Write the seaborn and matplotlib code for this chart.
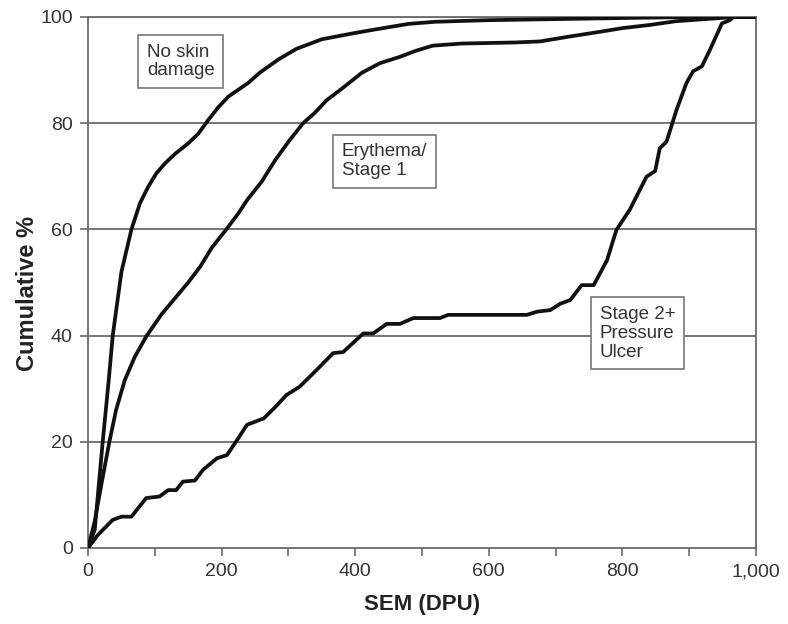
import matplotlib
matplotlib.use("Agg")
import matplotlib.pyplot as plt
import seaborn as sns
import pandas as pd
from matplotlib.ticker import MultipleLocator, FuncFormatter

# ---- data ----
noskin_x = [0, 10, 22, 31, 37, 50, 65, 78, 90, 102, 115, 130, 150, 165, 180, 195, 210,
            240, 257, 285, 312, 350, 400, 437, 480, 520, 600, 700, 800, 905, 1000]
noskin_y = [0, 3.4, 20, 31.6, 40, 52, 60, 65, 68, 70.5, 72.4, 74.2, 76.2, 78, 80.6, 83, 85,
            87.6, 89.5, 92, 94, 95.8, 97, 97.8, 98.7, 99.1, 99.4, 99.6, 99.8, 100, 100]

ery_x = [0, 10, 20, 32, 42, 55, 70, 88, 110, 130, 150, 168, 185, 207, 225, 238, 260,
         280, 300, 322, 340, 357, 380, 410, 437, 467, 490, 516, 560, 600, 640, 677,
         720, 766, 800, 841, 880, 946, 970, 1000]
ery_y = [0, 5, 12, 20, 26, 31.6, 36, 40, 44, 47, 50, 53, 56.5, 60, 63, 65.5, 69,
         73, 76.5, 80, 82, 84.3, 86.5, 89.5, 91.3, 92.5, 93.6, 94.6, 95, 95.1, 95.2, 95.4,
         96.3, 97.2, 97.9, 98.5, 99.2, 99.8, 100, 100]

st2_x = [0, 15, 37, 50, 65, 87, 107, 120, 132, 142, 160, 172, 193, 208, 223, 238, 263, 280,
         297, 317, 342, 367, 382, 412, 427, 447, 467, 487, 527, 539, 657, 672, 692, 707,
         722, 739, 757, 777, 791, 811, 836, 849, 856, 866, 881, 896, 906, 919, 931, 949,
         961, 966, 1000]
st2_y = [0, 2.5, 5.3, 5.9, 5.9, 9.4, 9.7, 10.9, 10.9, 12.5, 12.7, 14.7, 16.9, 17.5, 20.3, 23.2, 24.4, 26.5,
         28.8, 30.4, 33.5, 36.7, 36.9, 40.4, 40.4, 42.2, 42.2, 43.3, 43.3, 43.9, 43.9, 44.5, 44.8, 46,
         46.7, 49.5, 49.5, 54.2, 59.9, 63.7, 69.9, 71, 75.3, 76.5, 82.5, 87.6, 89.8, 90.7, 93.8, 98.8,
         99.4, 100, 100]

series_names = ["No skin\ndamage", "Erythema/\nStage 1", "Stage 2+\nPressure\nUlcer"]
x_ticks = [0, 200, 400, 600, 800, 1000]
y_ticks = [0, 20, 40, 60, 80, 100]

# ---- build long-form table ----
frames = []
for name, xs, ys in zip(series_names, [noskin_x, ery_x, st2_x], [noskin_y, ery_y, st2_y]):
    frames.append(pd.DataFrame({"SEM": xs, "Cum": ys, "group": name}))
df = pd.concat(frames, ignore_index=True)

sns.set_style("white")
plt.rcParams["font.family"] = ["Liberation Sans", "DejaVu Sans"]

fig = plt.figure(figsize=(7.88, 6.24), dpi=100)
ax = fig.add_axes([0.1117, 0.1218, 0.8477, 0.851])

grey = "#6a6a6a"
for yv in y_ticks[1:]:
    ax.axhline(yv, color=grey, lw=1.3, zorder=1)

sns.lineplot(data=df, x="SEM", y="Cum", hue="group", units="group", estimator=None,
             sort=False, palette=["#111111"] * 3, linewidth=2.7, legend=False, ax=ax,
             zorder=3)

ax.set_xlim(0, 1000)
ax.set_ylim(0, 100)
ax.set_xticks(x_ticks)
ax.xaxis.set_minor_locator(MultipleLocator(100))
ax.xaxis.set_major_formatter(FuncFormatter(lambda v, p: f"{int(v):,}"))
ax.set_yticks(y_ticks)

for s in ax.spines.values():
    s.set_color(grey)
    s.set_linewidth(1.3)

ax.tick_params(axis="x", which="both", direction="out", length=6, width=1.2,
               color=grey, labelsize=14, labelcolor="#333333", pad=5, bottom=True)
ax.tick_params(axis="y", which="both", direction="out", length=6, width=1.2,
               color=grey, labelsize=14, labelcolor="#333333", pad=5, left=True)

ax.set_xlabel("SEM (DPU)", fontsize=16, fontweight="bold", color="#222222", labelpad=10)
ax.set_ylabel("Cumulative %", fontsize=17, fontweight="bold", color="#222222", labelpad=2)
ax.yaxis.set_label_coords(-0.074, 0.48)

box = dict(boxstyle="square,pad=0.45", facecolor="white", edgecolor="#777777", lw=1.2)
label_pos = [(88, 95.0), (380, 76.2), (766, 45.6)]
for name, (tx, ty) in zip(series_names, label_pos):
    ax.text(tx, ty, name, ha="left", va="top", fontsize=13.5, color="#333333",
            bbox=box, zorder=4, linespacing=1.15)

fig.savefig("out.png", dpi=100)
